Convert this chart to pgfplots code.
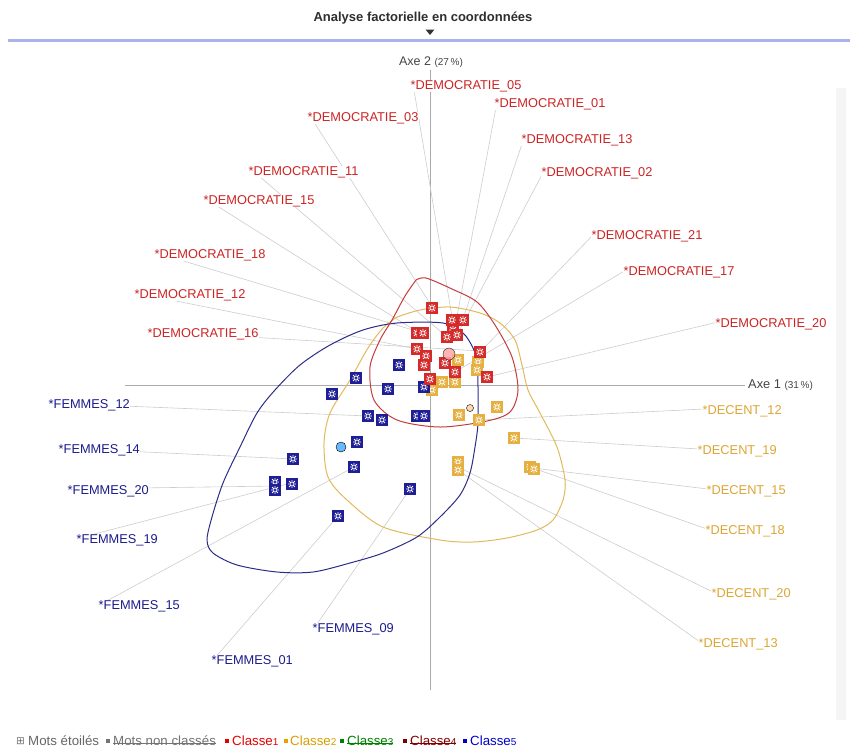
\documentclass[border=0pt]{standalone}
\usepackage{pgfplots}
\pgfplotsset{compat=1.18}
\usepackage{fontspec}
\setmainfont{Liberation Sans}
\newfontfamily\djv{DejaVu Sans}

\newsavebox\strikebox
\newcommand{\strike}[1]{\sbox\strikebox{#1}\usebox\strikebox\llap{\rule[0.33ex]{\wd\strikebox}{0.6pt}}}
\newcommand{\sd}[1]{{\fontsize{10}{11}\selectfont #1}}

\definecolor{ptred}{HTML}{D42A2A}
\definecolor{ptorange}{HTML}{E6B040}
\definecolor{ptblue}{HTML}{1E1E96}
\definecolor{labred}{HTML}{CC2424}
\definecolor{laborange}{HTML}{DCA634}
\definecolor{labblue}{HTML}{1C1C8C}
\definecolor{cvred}{HTML}{C43C3C}
\definecolor{cvorange}{HTML}{E2B85C}
\definecolor{cvblue}{HTML}{2C2C88}
\definecolor{conngray}{HTML}{CCCCCC}
\definecolor{axgray}{HTML}{AAAAAA}
\definecolor{hdrblue}{HTML}{A9B4EC}
\definecolor{txtgray}{HTML}{444444}

\pgfdeclareplotmark{starbox}{%
  \pgfpathrectangle{\pgfqpoint{-\pgfplotmarksize}{-\pgfplotmarksize}}{\pgfqpoint{2\pgfplotmarksize}{2\pgfplotmarksize}}%
  \pgfusepathqfill
  \pgfsetstrokecolor{white}%
  \pgfsetlinewidth{0.75pt}%
  \pgfpathmoveto{\pgfqpoint{-0.65\pgfplotmarksize}{0pt}}\pgfpathlineto{\pgfqpoint{0.65\pgfplotmarksize}{0pt}}%
  \pgfpathmoveto{\pgfqpoint{0pt}{-0.65\pgfplotmarksize}}\pgfpathlineto{\pgfqpoint{0pt}{0.65\pgfplotmarksize}}%
  \pgfpathmoveto{\pgfqpoint{-0.5\pgfplotmarksize}{-0.5\pgfplotmarksize}}\pgfpathlineto{\pgfqpoint{0.5\pgfplotmarksize}{0.5\pgfplotmarksize}}%
  \pgfpathmoveto{\pgfqpoint{-0.5\pgfplotmarksize}{0.5\pgfplotmarksize}}\pgfpathlineto{\pgfqpoint{0.5\pgfplotmarksize}{-0.5\pgfplotmarksize}}%
  \pgfusepathqstroke
  \pgfpathcircle{\pgfpointorigin}{0.22\pgfplotmarksize}%
  \pgfusepathqfill
}

\newcommand{\conn}[4]{\addplot[conngray, line width=0.6pt, no marks] coordinates {(#1,#2) (#3,#4)};}
\newcommand{\lab}[4]{\node[lbl, text=#1] at (axis cs:#2,#3) {#4};}

\begin{document}
\begin{tikzpicture}[
  lbl/.style={font=\fontsize{12.8}{14}\selectfont, inner sep=0.5pt, fill=white, anchor=west},
  lg/.style={font=\fontsize{13.3}{15}\selectfont, inner sep=0pt, anchor=west}]
\begin{axis}[scale only axis, width=850pt, height=753pt,
  xmin=0, xmax=850, ymin=0, ymax=753, y dir=reverse,
  hide axis, clip=false]

% faint right strip
\fill[black!4] (axis cs:836,88) rectangle (axis cs:846,720);

% header
\node[inner sep=0, text=black!82] at (axis cs:423,18) {\bfseries\fontsize{13}{15}\selectfont Analyse factorielle en coordonnées};
\fill[black!80] (axis cs:425.5,29.5) -- (axis cs:434.5,29.5) -- (axis cs:430,35) -- cycle;
\draw[line width=3pt, hdrblue] (axis cs:8,40) -- (axis cs:850,40);

% factorial axes
\addplot[axgray, line width=0.8pt, no marks] coordinates {(125,385) (745,385)};
\addplot[axgray, line width=0.8pt, no marks] coordinates {(430,70) (430,690)};

% connector lines: label star -> point
\conn{413}{84}{452}{317}
\conn{497}{102}{455}{327}
\conn{310}{116}{433}{308}
\conn{524}{138}{462}{322}
\conn{544}{171}{457}{335}
\conn{252}{170}{447}{337}
\conn{206}{199}{419}{333}
\conn{594}{234}{480}{352}
\conn{157}{253}{423}{333}
\conn{626}{270}{455}{372}
\conn{136}{293}{417}{349}
\conn{718}{322}{487}{377}
\conn{150}{331}{480}{351}
\conn{51}{403}{368}{416}
\conn{61}{448}{293}{459}
\conn{70}{489}{275}{486}
\conn{79}{538}{291}{483}
\conn{101}{604}{354}{467}
\conn{315}{627}{410}{489}
\conn{214}{659}{338}{516}
\conn{704}{409}{479}{420}
\conn{699}{449}{514}{438}
\conn{708}{489}{533}{468}
\conn{707}{529}{530}{467}
\conn{713}{592}{458}{467}
\conn{700}{642}{458}{470}

% class curves
\addplot[cvorange, line width=1pt, smooth, no marks] coordinates {
 (397,317) (420,310) (450,307) (480,313) (500,323) (515,340) (522,365) (528,390) (540,413) (557,447)
 (565,480) (563,500) (553,520) (537,530) (507,538) (473,542) (440,540) (383,527) (347,500)
 (328,477) (324,443) (330,413) (350,380) (368,348) (383,328) (397,317)};
\addplot[cvblue, line width=1pt, smooth, no marks] coordinates {
 (478,387) (478,423) (475,447) (470,473) (460,495) (440,517) (417,537) (383,553) (350,563)
 (313,572) (277,572) (237,565) (213,553) (207,540) (212,517) (223,483) (240,447) (257,413)
 (275,390) (300,365) (330,345) (363,330) (397,323) (443,323) (463,333) (473,348) (477,362) (478,387)};
\addplot[cvred, line width=1pt, smooth, no marks] coordinates {
 (416,280) (426,278) (452,289) (477,302) (495,325) (512,357) (518,390) (510,412) (487,421)
 (440,427) (397,420) (374,400) (370,367) (380,340) (392,320) (405,296) (416,280)};

% points
\addplot[only marks, mark=starbox, mark size=5.8pt, color=ptorange, mark options={fill=ptorange}] coordinates {
 (458,360) (478,362) (477,370) (442,382) (455,382) (432,390) (459,415) (479,420) (497,407)
 (514,438) (530,467) (534,469) (458,462) (458,470)};
\addplot[only marks, mark=starbox, mark size=5.8pt, color=ptblue, mark options={fill=ptblue}] coordinates {
 (399,365) (356,378) (388,389) (332,394) (424,387) (368,416) (382,420) (417,416) (424,416)
 (357,442) (354,467) (293,459) (292,484) (275,482) (275,490) (410,489) (338,516)};
\addplot[only marks, mark=starbox, mark size=5.8pt, color=ptred, mark options={fill=ptred}] coordinates {
 (432,308) (452,320) (463,320) (453,330) (447,337) (457,335) (417,333) (423,333) (417,349) (426,356)
 (424,365) (445,363) (455,372) (480,352) (487,377) (430,379)};

% centroids
\addplot[only marks, mark=*, mark size=6pt, mark options={fill=red!35, draw=none, opacity=0.85}] coordinates {(449,354)};
\addplot[only marks, mark=*, mark size=3.5pt, mark options={fill=orange!30, draw=none}] coordinates {(470,408)};
\addplot[only marks, mark=*, mark size=5pt, mark options={fill=blue!45!cyan!60, draw=none}] coordinates {(341,447)};

% axis titles
\node[inner sep=0, text=txtgray] at (axis cs:431,62) {\fontsize{12.5}{13}\selectfont Axe 2 {\fontsize{10}{10}\selectfont(27\,\%)}};
\node[inner sep=0, text=txtgray, anchor=west] at (axis cs:748,385) {\fontsize{12.8}{13}\selectfont Axe 1 {\fontsize{10}{10}\selectfont(31\,\%)}};

% labels
\lab{labred}{410}{86}{*DEMOCRATIE\_05}
\lab{labred}{494}{104}{*DEMOCRATIE\_01}
\lab{labred}{307}{118}{*DEMOCRATIE\_03}
\lab{labred}{521}{140}{*DEMOCRATIE\_13}
\lab{labred}{541}{173}{*DEMOCRATIE\_02}
\lab{labred}{248}{172}{*DEMOCRATIE\_11}
\lab{labred}{203}{201}{*DEMOCRATIE\_15}
\lab{labred}{591}{236}{*DEMOCRATIE\_21}
\lab{labred}{154}{255}{*DEMOCRATIE\_18}
\lab{labred}{623}{272}{*DEMOCRATIE\_17}
\lab{labred}{134}{295}{*DEMOCRATIE\_12}
\lab{labred}{715}{324}{*DEMOCRATIE\_20}
\lab{labred}{147}{334}{*DEMOCRATIE\_16}
\lab{labblue}{48}{405}{*FEMMES\_12}
\lab{labblue}{58}{450}{*FEMMES\_14}
\lab{labblue}{67}{491}{*FEMMES\_20}
\lab{labblue}{76}{540}{*FEMMES\_19}
\lab{labblue}{98}{606}{*FEMMES\_15}
\lab{labblue}{312}{629}{*FEMMES\_09}
\lab{labblue}{211}{661}{*FEMMES\_01}
\lab{laborange}{702}{411}{*DECENT\_12}
\lab{laborange}{697}{451}{*DECENT\_19}
\lab{laborange}{706}{491}{*DECENT\_15}
\lab{laborange}{705}{531}{*DECENT\_18}
\lab{laborange}{711}{594}{*DECENT\_20}
\lab{laborange}{698}{644}{*DECENT\_13}

% legend
\node[lg, text=black!55] at (axis cs:16,741) {{\djv\fontsize{10.5}{12}\selectfont ⊞}};
\node[lg, text=black!60] at (axis cs:28,741) {Mots étoilés};
\node[lg, text=black!55] at (axis cs:106,741) {\rule[1pt]{4pt}{4pt}};
\node[lg, text=black!55] at (axis cs:113,741) {\strike{Mots non classés}};
\node[lg, text=red!90!black] at (axis cs:225,741) {\rule[1pt]{4pt}{4pt}};
\node[lg, text=red!90!black] at (axis cs:232,741) {Classe\sd{1}};
\node[lg, text=orange!60!yellow!90!black] at (axis cs:284,741) {\rule[1pt]{4pt}{4pt}};
\node[lg, text=orange!55!yellow!85!black] at (axis cs:290,741) {Classe\sd{2}};
\node[lg, text=green!50!black] at (axis cs:340,741) {\rule[1pt]{4pt}{4pt}};
\node[lg, text=green!50!black] at (axis cs:347,741) {\strike{Classe\sd{3}}};
\node[lg, text=red!50!black] at (axis cs:403,741) {\rule[1pt]{4pt}{4pt}};
\node[lg, text=red!50!black] at (axis cs:410,741) {\strike{Classe\sd{4}}};
\node[lg, text=blue!80!black] at (axis cs:463,741) {\rule[1pt]{4pt}{4pt}};
\node[lg, text=blue!80!black] at (axis cs:470,741) {Classe\sd{5}};
\end{axis}
\pgfresetboundingbox
\useasboundingbox (current axis.south west) rectangle (current axis.north east);
\end{tikzpicture}
\end{document}
